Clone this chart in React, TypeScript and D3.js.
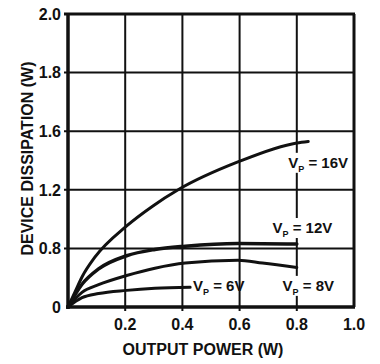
import * as d3 from "d3";
import React from "react";

// axis ticks (y axis of the original is not linear: ticks equally spaced)
const xTicks = [0.2, 0.4, 0.6, 0.8, 1.0];
const yTicks = [0, 0.8, 1.2, 1.6, 1.8, 2.0];

// curves
const power16 = [0, 0.025, 0.049, 0.094, 0.203, 0.297, 0.385, 0.594, 0.8, 0.84];
const diss16 = [0, 0.21, 0.41, 0.68, 0.95, 1.09, 1.2, 1.39, 1.52, 1.53];
const power12 = [0, 0.049, 0.107, 0.205, 0.304, 0.41, 0.594, 0.8];
const diss12 = [0, 0.31, 0.52, 0.7, 0.785, 0.815, 0.834, 0.83];
const power8 = [0, 0.049, 0.107, 0.205, 0.304, 0.41, 0.594, 0.68, 0.8];
const diss8 = [0, 0.2, 0.305, 0.43, 0.53, 0.6, 0.637, 0.6, 0.54];
const power6 = [0, 0.049, 0.107, 0.205, 0.304, 0.427];
const diss6 = [0, 0.127, 0.184, 0.227, 0.255, 0.27];

const curveLabels = ["16V", "12V", "8V", "6V"];

const WIDTH = 380;
const HEIGHT = 364;
const margin = { top: 14, right: 26, bottom: 57, left: 68 };
const FONT = "'Liberation Sans', Arial, sans-serif";

export default function App() {
  const chartWidth = WIDTH - margin.left - margin.right;
  const chartHeight = HEIGHT - margin.top - margin.bottom;

  const xScale = d3.scaleLinear().domain([0, 1]).range([0, chartWidth]);
  // piecewise scale: every labelled tick sits on an equal step
  const yScale = d3
    .scaleLinear()
    .domain(yTicks)
    .range(yTicks.map((d, i) => chartHeight - (i * chartHeight) / (yTicks.length - 1)));

  const line = d3
    .line<[number, number]>()
    .x(d => xScale(d[0]))
    .y(d => yScale(d[1]))
    .curve(d3.curveMonotoneX);

  const series = [
    { p: power16, d: diss16 },
    { p: power12, d: diss12 },
    { p: power8, d: diss8 },
    { p: power6, d: diss6 },
  ];

  // label anchors in data units: [power, dissipation, white backing]
  const labelPos: [number, number, boolean][] = [
    [0.77, 1.35, true],
    [0.715, 0.905, true],
    [0.75, 0.22, true],
    [0.437, 0.22, false],
  ];

  return (
    <svg
      width={WIDTH}
      height={HEIGHT}
      style={{ position: "absolute", left: 0, top: 0, background: "#fff" }}
      fontFamily={FONT}
      fontWeight="bold"
    >
      <g transform={`translate(${margin.left},${margin.top})`}>
        {/* grid */}
        {xTicks.slice(0, -1).map((d, i) => (
          <line
            key={"gx" + i}
            x1={xScale(d)}
            x2={xScale(d)}
            y1={0}
            y2={chartHeight + 4}
            stroke="#111"
            strokeWidth={2}
          />
        ))}
        {yTicks.slice(1, -1).map((d, i) => (
          <line
            key={"gy" + i}
            x1={-4}
            x2={chartWidth}
            y1={yScale(d)}
            y2={yScale(d)}
            stroke="#111"
            strokeWidth={2}
          />
        ))}

        {/* frame */}
        <line x1={-4} x2={chartWidth + 1} y1={0} y2={0} stroke="#111" strokeWidth={3} />
        <line x1={chartWidth} x2={chartWidth} y1={0} y2={chartHeight} stroke="#111" strokeWidth={3} />
        <line x1={0} x2={0} y1={-1} y2={chartHeight + 2} stroke="#111" strokeWidth={3.5} />
        <line x1={-2} x2={chartWidth + 1} y1={chartHeight} y2={chartHeight} stroke="#111" strokeWidth={3.5} />

        {/* curves */}
        {series.map((s, i) => (
          <path
            key={"c" + i}
            d={line(s.p.map((p, j) => [p, s.d[j]] as [number, number])) || ""}
            fill="none"
            stroke="#111"
            strokeWidth={i === 1 ? 3.5 : 3}
            strokeLinecap="round"
          />
        ))}

        {/* curve labels */}
        {labelPos.map((l, i) => {
          const x = xScale(l[0]);
          const y = yScale(l[1]);
          return (
            <g key={"l" + i} transform={`translate(${x},${y})`}>
              {l[2] && <rect x={-2} y={-15} width={curveLabels[i].length * 8.5 + 36} height={20} fill="#fff" />}
              <text fontSize={15} fill="#111">
                V
                <tspan fontSize={9} dy={4}>P</tspan>
                <tspan dy={-4}>{" = " + curveLabels[i]}</tspan>
              </text>
            </g>
          );
        })}

        {/* y tick labels */}
        {yTicks.map((d, i) => (
          <text
            key={"yt" + i}
            x={-7}
            y={yScale(d)}
            dy="0.36em"
            textAnchor="end"
            fontSize={16}
            fill="#111"
          >
            {d === 0 ? "0" : d.toFixed(1)}
          </text>
        ))}

        {/* x tick labels */}
        {xTicks.map((d, i) => (
          <text
            key={"xt" + i}
            x={xScale(d)}
            y={chartHeight + 23}
            textAnchor="middle"
            fontSize={16}
            fill="#111"
          >
            {d.toFixed(1)}
          </text>
        ))}

        {/* axis titles */}
        <text
          x={chartWidth / 2 - 8}
          y={chartHeight + 48}
          textAnchor="middle"
          fontSize={16}
          fill="#111"
        >
          OUTPUT POWER (W)
        </text>
        <text
          transform={`translate(${-35},${chartHeight / 2 - 2}) rotate(-90)`}
          textAnchor="middle"
          fontSize={16}
          fill="#111"
        >
          DEVICE DISSIPATION (W)
        </text>
      </g>
    </svg>
  );
}
